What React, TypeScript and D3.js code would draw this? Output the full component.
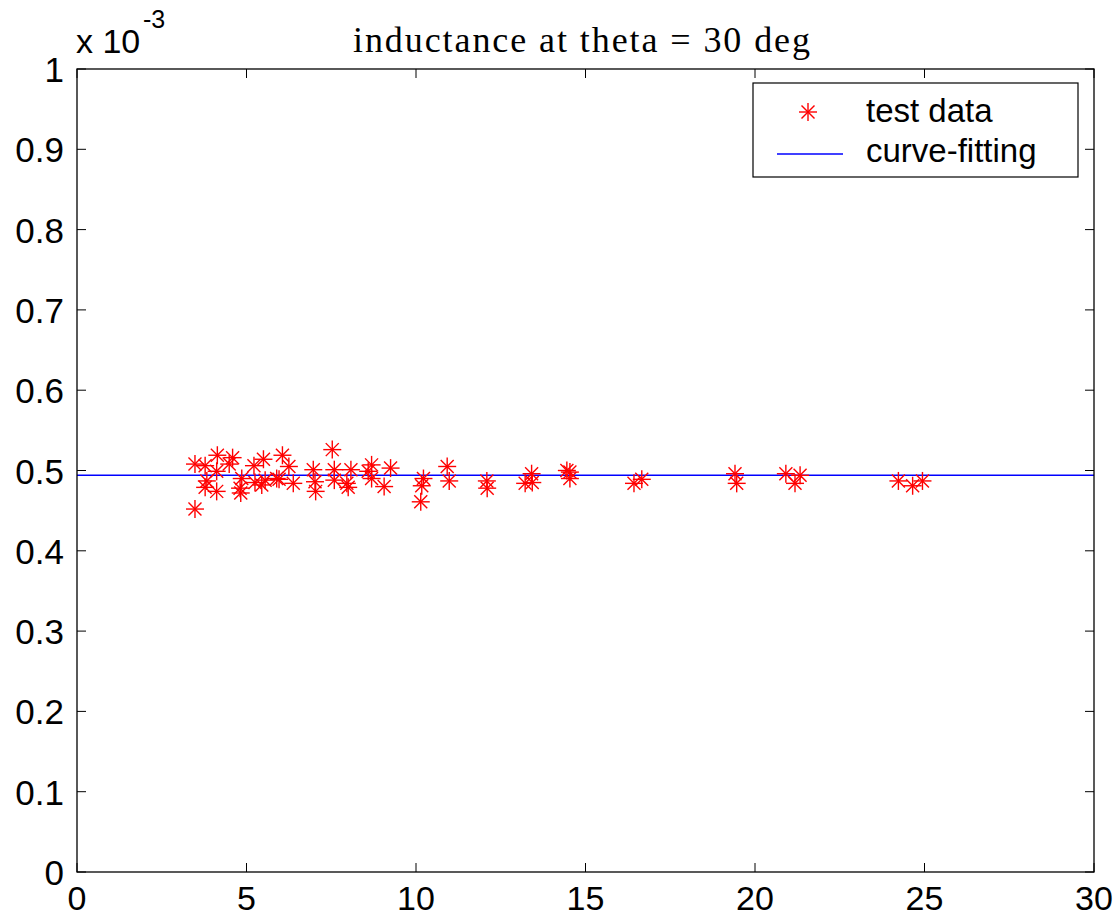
import React from "react";
import * as d3 from "d3";

const testX: number[] = [
  3.48, 3.78, 4.14, 4.59, 4.49, 4.12, 3.83, 3.78, 4.12, 3.48,
  4.86, 4.81, 4.83, 5.22, 5.50, 5.25, 5.55, 5.45, 5.89, 6.06,
  6.25, 5.96, 6.38, 6.97, 7.02, 7.04, 7.53, 7.59, 7.59, 7.96,
  8.00, 8.08, 8.59, 8.69, 8.69, 9.25, 9.06, 10.22, 10.17, 10.14,
  10.92, 10.98, 12.09, 12.10, 13.41, 13.22, 13.43, 14.45, 14.54, 14.54,
  16.43, 16.66, 19.41, 19.46, 20.91, 21.33, 21.18, 24.23, 24.65, 24.94,
];
const testY: number[] = [
  0.508, 0.506, 0.519, 0.516, 0.508, 0.499, 0.487, 0.479, 0.474, 0.452,
  0.490, 0.478, 0.472, 0.506, 0.514, 0.485, 0.488, 0.482, 0.490, 0.519,
  0.505, 0.489, 0.484, 0.501, 0.486, 0.474, 0.526, 0.501, 0.488, 0.484,
  0.479, 0.501, 0.499, 0.507, 0.490, 0.503, 0.480, 0.490, 0.481, 0.461,
  0.505, 0.487, 0.487, 0.478, 0.496, 0.484, 0.485, 0.500, 0.498, 0.490,
  0.484, 0.489, 0.496, 0.484, 0.496, 0.494, 0.484, 0.487, 0.481, 0.487,
];
const fitX: number[] = [0, 30];
const fitY: number[] = [0.494, 0.494];
const xTicks: number[] = [0, 5, 10, 15, 20, 25, 30];
const yTicks: number[] = [0, 0.1, 0.2, 0.3, 0.4, 0.5, 0.6, 0.7, 0.8, 0.9, 1];
const titleText = "inductance at theta = 30 deg";
const legendLabels: string[] = ["test data", "curve-fitting"];

const W = 1119;
const H = 918;
const L = 77;
const R = 1094;
const T = 69;
const B = 872;
const sans = "Arial, 'Liberation Sans', Helvetica, sans-serif";
const serif = "'Times New Roman', 'Liberation Serif', serif";

function Star({ cx, cy }: { cx: number; cy: number }) {
  const a = 9;
  const d = 6.5;
  return (
    <g stroke="#ff0000" strokeWidth={1.4}>
      <line x1={cx - a} y1={cy} x2={cx + a} y2={cy} />
      <line x1={cx} y1={cy - a} x2={cx} y2={cy + a} />
      <line x1={cx - d} y1={cy - d} x2={cx + d} y2={cy + d} />
      <line x1={cx - d} y1={cy + d} x2={cx + d} y2={cy - d} />
    </g>
  );
}

export default function App() {
  const x = d3.scaleLinear().domain([0, 30]).range([L, R]);
  const y = d3.scaleLinear().domain([0, 1]).range([B, T]);
  const line = d3
    .line<number>()
    .x((_, i) => x(fitX[i]))
    .y((v) => y(v));
  const tk = 9;
  const yFmt = (v: number) => (v === 0 ? "0" : v === 1 ? "1" : d3.format(".1f")(v));

  return (
    <svg
      width={W}
      height={H}
      style={{ position: "absolute", left: 0, top: 0, background: "#fff" }}
    >
      <rect x={0} y={0} width={W} height={H} fill="#fff" />
      <path d={line(fitY) || ""} fill="none" stroke="#0000ff" strokeWidth={1.5} />
      {testX.map((v, i) => (
        <Star key={i} cx={x(v)} cy={y(testY[i])} />
      ))}
      <rect x={L} y={T} width={R - L} height={B - T} fill="none" stroke="#000" strokeWidth={1.3} />
      {xTicks.map((t) => (
        <g key={"x" + t}>
          <line x1={x(t)} x2={x(t)} y1={B} y2={B - tk} stroke="#000" strokeWidth={1} />
          <line x1={x(t)} x2={x(t)} y1={T} y2={T + tk} stroke="#000" strokeWidth={1} />
          <text
            x={x(t)}
            y={910}
            textAnchor="middle"
            fontFamily={sans}
            fontSize={34}
            fill="#000"
          >
            {t}
          </text>
        </g>
      ))}
      {yTicks.map((t) => (
        <g key={"y" + t}>
          <line x1={L} x2={L + tk} y1={y(t)} y2={y(t)} stroke="#000" strokeWidth={1} />
          <line x1={R} x2={R - tk} y1={y(t)} y2={y(t)} stroke="#000" strokeWidth={1} />
          <text
            x={64}
            y={y(t) + 13}
            textAnchor="end"
            fontFamily={sans}
            fontSize={35}
            fill="#000"
          >
            {yFmt(t)}
          </text>
        </g>
      ))}
      <text x={76} y={53} fontFamily={sans} fontSize={34} fill="#000">
        x 10
      </text>
      <text x={143} y={28} fontFamily={sans} fontSize={25} fill="#000">
        -3
      </text>
      <text
        x={353}
        y={52}
        fontFamily={serif}
        fontSize={36}
        fill="#000"
        textLength={457}
        lengthAdjust="spacing"
      >
        {titleText}
      </text>
      <rect x={753} y={83} width={325} height={94} fill="#fff" stroke="#000" strokeWidth={1.2} />
      <Star cx={808} cy={112} />
      <line x1={777} x2={843} y1={154} y2={154} stroke="#0000ff" strokeWidth={1.3} />
      <text x={866} y={122} fontFamily={sans} fontSize={33} fill="#000">
        {legendLabels[0]}
      </text>
      <text x={866} y={162} fontFamily={sans} fontSize={33} fill="#000">
        {legendLabels[1]}
      </text>
    </svg>
  );
}
